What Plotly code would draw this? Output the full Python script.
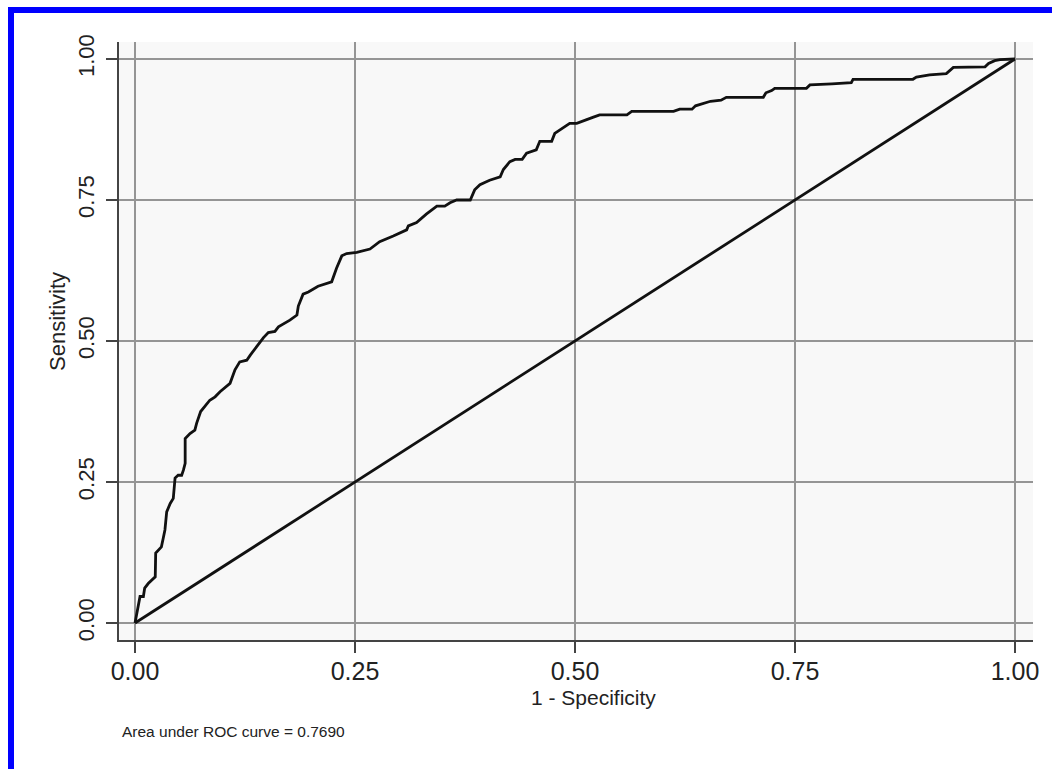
import plotly.graph_objects as go

# ROC curve data (1 - specificity, sensitivity)
fpr = [0.0, 0.0057, 0.0095, 0.011, 0.015, 0.023, 0.0235, 0.026, 0.030, 0.032, 0.034, 0.036,
       0.040, 0.0435, 0.0455, 0.049, 0.053, 0.055, 0.057, 0.057, 0.0625, 0.068, 0.070, 0.0746,
       0.0795, 0.085, 0.091, 0.0966, 0.108, 0.1136, 0.119, 0.127, 0.131, 0.138, 0.146, 0.1515,
       0.159, 0.163, 0.170, 0.176, 0.184, 0.1856, 0.191, 0.197, 0.208, 0.2235, 0.229, 0.235,
       0.2405, 0.252, 0.267, 0.278, 0.2935, 0.3087, 0.3106, 0.320, 0.331, 0.343, 0.352, 0.358,
       0.3655, 0.381, 0.386, 0.392, 0.403, 0.415, 0.4186, 0.426, 0.432, 0.440, 0.445, 0.456,
       0.460, 0.4735, 0.477, 0.483, 0.494, 0.502, 0.513, 0.521, 0.528, 0.559, 0.5645, 0.612,
       0.619, 0.633, 0.637, 0.654, 0.666, 0.672, 0.714, 0.717, 0.7235, 0.727, 0.763, 0.767,
       0.792, 0.801, 0.814, 0.816, 0.884, 0.888, 0.903, 0.922, 0.926, 0.930, 0.966, 0.970,
       0.977, 0.983, 1.0]
tpr = [0.0, 0.047, 0.047, 0.062, 0.070, 0.082, 0.124, 0.129, 0.135, 0.150, 0.165, 0.197,
       0.212, 0.221, 0.257, 0.262, 0.262, 0.271, 0.283, 0.327, 0.336, 0.342, 0.354, 0.375,
       0.384, 0.395, 0.401, 0.410, 0.425, 0.449, 0.463, 0.466, 0.475, 0.490, 0.506, 0.515,
       0.517, 0.525, 0.531, 0.537, 0.546, 0.562, 0.583, 0.587, 0.597, 0.605, 0.629, 0.651,
       0.655, 0.657, 0.663, 0.676, 0.686, 0.697, 0.704, 0.710, 0.725, 0.739, 0.739, 0.745,
       0.750, 0.750, 0.768, 0.777, 0.785, 0.791, 0.804, 0.818, 0.822, 0.822, 0.833, 0.839,
       0.854, 0.854, 0.868, 0.874, 0.886, 0.886, 0.893, 0.897, 0.901, 0.901, 0.907, 0.907,
       0.911, 0.911, 0.917, 0.925, 0.927, 0.932, 0.932, 0.940, 0.944, 0.948, 0.948, 0.954,
       0.956, 0.957, 0.958, 0.964, 0.964, 0.968, 0.972, 0.974, 0.980, 0.985, 0.986, 0.992,
       0.997, 0.999, 1.0]

ref_x = [0.0, 1.0]
ref_y = [0.0, 1.0]

tick_vals = [0.0, 0.25, 0.5, 0.75, 1.0]
tick_text = ["0.00", "0.25", "0.50", "0.75", "1.00"]

x_title = "1 - Specificity"
y_title = "Sensitivity"
auc_note = "Area under ROC curve = 0.7690"

W, H = 1052, 769
L, R, T, B = 119, 19, 42, 129
PW, PH = W - L - R, H - T - B


def px(x):
    return (x - L) / PW


def py(y):
    return (H - B - y) / PH


FONT = "Liberation Sans, Arial, sans-serif"
TXT = "#222222"

fig = go.Figure()
fig.add_trace(go.Scatter(x=fpr, y=tpr, mode="lines",
                         line=dict(color="#111111", width=2.8), showlegend=False))
fig.add_trace(go.Scatter(x=ref_x, y=ref_y, mode="lines",
                         line=dict(color="#111111", width=2.8), showlegend=False))

fig.update_layout(
    width=W, height=H,
    margin=dict(l=L, r=R, t=T, b=B),
    paper_bgcolor="white",
    plot_bgcolor="#f8f8f8",
    font=dict(family=FONT, color=TXT),
    xaxis=dict(range=[-0.0182, 1.0205], tickvals=tick_vals, ticktext=tick_text,
               showgrid=True, gridcolor="#959595", gridwidth=1.5,
               zeroline=False, showline=True, linecolor="#444444", linewidth=1.5,
               ticks="outside", ticklen=11, tickwidth=1.5, tickcolor="#444444",
               tickfont=dict(size=25, family=FONT, color=TXT), ticklabelstandoff=-3),
    yaxis=dict(range=[-0.0301, 1.0301], tickvals=tick_vals, ticktext=tick_text,
               showgrid=True, gridcolor="#959595", gridwidth=1.5,
               zeroline=False, showline=True, linecolor="#444444", linewidth=1.5,
               ticks="outside", ticklen=11, tickwidth=1.5, tickcolor="#444444",
               tickangle=-90,
               tickfont=dict(size=22, family=FONT, color=TXT), ticklabelstandoff=3),
    annotations=[
        dict(text=x_title, xref="paper", yref="paper", x=px(593), y=py(697),
             showarrow=False, font=dict(size=21, family=FONT, color=TXT),
             xanchor="center", yanchor="middle"),
        dict(text=y_title, xref="paper", yref="paper", x=px(57), y=py(322),
             showarrow=False, font=dict(size=22, family=FONT, color=TXT),
             textangle=-90, xanchor="center", yanchor="middle"),
        dict(text=auc_note, xref="paper", yref="paper", x=px(120), y=py(731),
             showarrow=False, font=dict(size=15.5, family=FONT, color=TXT),
             xanchor="left", yanchor="middle"),
    ],
    shapes=[
        dict(type="rect", xref="paper", yref="paper",
             x0=px(8), x1=px(1052), y0=py(13), y1=py(7),
             fillcolor="#0000ff", line=dict(width=0), layer="above"),
        dict(type="rect", xref="paper", yref="paper",
             x0=px(8), x1=px(14), y0=py(769), y1=py(7),
             fillcolor="#0000ff", line=dict(width=0), layer="above"),
    ],
)

fig.write_html("out.html")
